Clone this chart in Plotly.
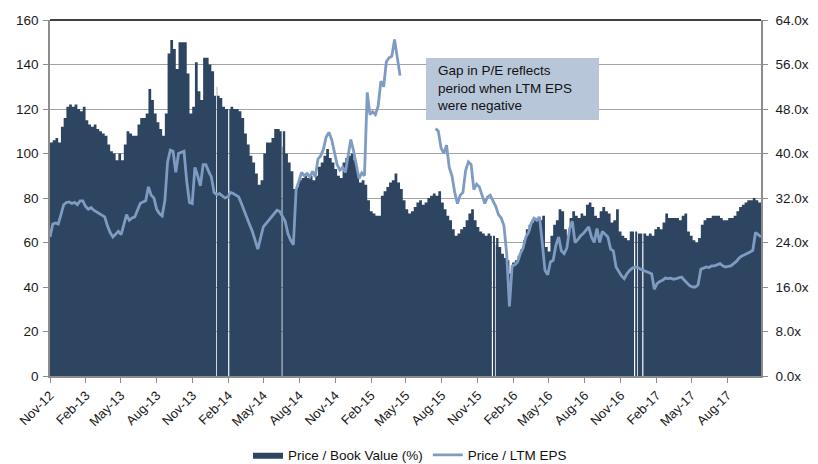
import numpy as np
import pandas as pd
import plotly.graph_objects as go
from plotly.subplots import make_subplots

# Weekly observations, first week starting 1 Nov 2012
start_date = "2012-11-01"

# Price / Book Value (%), weekly
pb_pct = [
    105, 106, 107, 105, 112, 116, 121, 122, 121, 122,
    120, 119, 121, 115, 113, 112, 113, 111, 110, 109,
    108, 104, 101, 100, 97, 100, 97, 104, 110, 109,
    108, 108, 113, 116, 116, 118, 129, 124, 118, 114,
    111, 108, 118, 145, 151, 147, 138, 150, 150, 150,
    136, 118, 121, 141, 128, 124, 143, 143, 140, 137,
    126, 130, 125, 121, 120, 120, 121, 120, 120, 119,
    116, 109, 104, 99, 96, 91, 86, 88, 100, 105,
    105, 107, 111, 111, 110, 103, 100, 96, 92, 84,
    85, 88, 89, 90, 89, 90, 88, 90, 94, 96,
    99, 102, 98, 96, 93, 90, 89, 96, 98, 99,
    100, 97, 92, 87, 88, 86, 79, 74, 73, 72,
    72, 81, 83, 85, 87, 88, 91, 87, 84, 79,
    75, 73, 74, 76, 78, 79, 77, 78, 80, 81,
    82, 81, 83, 78, 75, 72, 70, 66, 63, 64,
    66, 67, 70, 73, 75, 70, 67, 65, 64, 63,
    64, 63, 62, 59, 58, 55, 53, 52, 46, 51,
    52, 54, 57, 61, 66, 68, 69, 70, 71, 70,
    72, 58, 56, 63, 68, 70, 75, 74, 66, 63,
    71, 74, 72, 71, 73, 72, 77, 78, 76, 72,
    71, 74, 76, 74, 73, 69, 70, 75, 65, 63,
    62, 61, 65, 65, 64, 64, 64, 63, 63, 64,
    63, 66, 67, 66, 69, 73, 71, 71, 71, 71,
    70, 72, 73, 65, 63, 61, 60, 62, 68, 70,
    71, 71, 72, 72, 72, 71, 70, 70, 71, 71,
    72, 74, 76, 77, 78, 79, 79, 80, 79, 78, 77,
]

# Price / LTM EPS (x), weekly; None while LTM EPS was negative
pe_multiple = [
    25, 27.3, 27.5, 27.3, 29, 30.8, 31.2, 31.3, 31, 31.2,
    30.8, 31.5, 31.5, 30.5, 30, 30.3, 29.8, 29.5, 29.2, 28.8,
    28.6, 27, 25.8, 25, 25.6, 26, 25.4, 27.2, 29, 28,
    28.4, 28.6, 30, 31, 31.3, 31.5, 34, 32.5, 32, 30,
    29.2, 28.8, 31.5, 38.5, 40.6, 40.4, 36.6, 40, 40.2, 40.4,
    35, 31.2, 31, 37.5, 36, 34.2, 38, 38, 36.8, 35.8,
    33, 32.6, 32.8, 32.4, 32, 32.2, 33, 32.8, 32.5, 32.2,
    31, 29.6, 28.5, 27.2, 26, 24.4, 22.8, 24.8, 26.8, 27.4,
    28, 28.6, 29.2, 29.8, 29.6, 28.6, 27.8, 25.6, 24.4, 23.6,
    33.5, 35, 36.6, 36, 36.4, 35.8, 36.8, 35.8, 39, 39.6,
    40.8, 43, 43.8, 42.5, 40.5, 38, 37, 37.5, 36.6, 40,
    42.5, 40.5, 38, 35.5, 36.5, 36, 51, 47, 47.5, 47,
    48.5, 53, 52, 56.5, 57.2, 57.5, 60.5, 57.5, 54,
    None, None, None, None, None, None, None, None, None, None, None, None,
    44.5, 44, 41, 40, 41.5, 37.5, 36, 33, 31,
    32.5, 33, 37, 38.5, 38, 33.5, 34.5, 34, 32.5, 31,
    32.2, 32.5, 31.5, 30.5, 29, 28.4, 27, 22, 12.5, 19.8,
    20, 20.5, 22, 23, 25, 25.8, 27.5, 28.4, 28, 28.6,
    24, 19, 18.2, 20.5, 20.8, 23.5, 25, 22.5, 22, 23,
    26.5, 27.8, 24, 24.5, 25.2, 25.6, 26.2, 26.8, 25, 24,
    26.5, 24, 26, 25.5, 25, 22.8, 22.5, 19.6, 18.8, 18,
    17.5, 18.4, 19, 19.4, 19.6, 19.5, 19.2, 19, 18.8, 18.6,
    18.4, 15.6, 16.6, 17, 17.2, 17.6, 17.5, 17.6, 17.4, 17.5,
    17.6, 17.8, 17.2, 16.6, 16.2, 16, 16, 16.4, 19.2, 19.4,
    19.6, 19.5, 19.8, 19.8, 20, 20.2, 19.8, 19.6, 19.7, 19.8,
    20.2, 20.6, 21.2, 21.6, 21.8, 22, 22.3, 22.6, 25.8, 25.4, 25,
]

# Days with no P/B print
pb_no_data_days = [
    "2013-12-31", "2014-01-31", "2014-06-17",
    "2015-12-07", "2015-12-15",
    "2016-12-05", "2016-12-13", "2016-12-26",
]

NAVY = "#2D4560"
STEEL = "#7E9BC2"
GRID = "#A3A3A3"
AXIS = "#8C8C8C"
FONT = "Liberation Sans, Arial, sans-serif"

weeks = pd.date_range(start_date, periods=len(pb_pct), freq="7D")
pb = pd.Series(pb_pct, index=weeks, dtype=float)

# Step-shaped area with a drop to zero on the no-data days
pts = [(d, v) for d, v in pb.items()]
for day in pd.to_datetime(pb_no_data_days):
    held = pb[:day].iloc[-1]
    pts.append((day, 0.0))
    pts.append((day + pd.Timedelta(days=3), held))
area = pd.DataFrame(pts, columns=["date", "value"]).sort_values("date", kind="stable")

fig = make_subplots(specs=[[{"secondary_y": True}]])

fig.add_trace(
    go.Scatter(
        x=area["date"], y=area["value"], mode="lines",
        line=dict(width=0, shape="hv", color=NAVY),
        fill="tozeroy", fillcolor=NAVY,
        name="Price / Book Value (%)",
    ),
    secondary_y=False,
)
fig.add_trace(
    go.Scatter(
        x=weeks, y=pe_multiple, mode="lines",
        line=dict(width=2.8, color=STEEL),
        connectgaps=False,
        name="Price / LTM EPS",
    ),
    secondary_y=True,
)

fig.update_xaxes(
    type="date", automargin=False, domain=[0, 1],
    range=[weeks[0], weeks[-1]],
    tick0=start_date, dtick="M3", tickformat="%b-%y",
    tickangle=-45, ticks="outside", ticklen=5, tickcolor=AXIS,
    showline=True, linecolor=AXIS, linewidth=1.5,
    showgrid=False, zeroline=False,
    tickfont=dict(family=FONT, size=13, color="#1a1a1a"),
)
fig.update_yaxes(
    range=[0, 160], dtick=20, tick0=0, automargin=False,
    showgrid=True, gridcolor=GRID, gridwidth=1,
    ticks="outside", ticklen=5, tickcolor=AXIS,
    showline=True, linecolor=AXIS, linewidth=1.5, zeroline=False,
    tickfont=dict(family=FONT, size=13.5, color="#1a1a1a"),
    ticklabelstandoff=2,
    secondary_y=False,
)
fig.update_yaxes(
    range=[0, 64], dtick=8, tick0=0, tickformat=".1f", ticksuffix="x",
    showgrid=False, automargin=False,
    ticks="outside", ticklen=5, tickcolor=AXIS,
    showline=True, linecolor=AXIS, linewidth=1.5, zeroline=False,
    tickfont=dict(family=FONT, size=13.5, color="#1a1a1a"),
    ticklabelstandoff=5,
    secondary_y=True,
)

# Plot-area edges and the call-out box
plot_left, plot_right, plot_top, plot_bottom = 50, 761, 20, 376
pw, ph = plot_right - plot_left, plot_bottom - plot_top


def px(x):
    return (x - plot_left) / pw


def py(y):
    return (plot_bottom - y) / ph


fig.add_shape(type="line", xref="paper", yref="paper", x0=0, x1=1, y0=1, y1=1,
              line=dict(color="#000000", width=1.6))
fig.add_shape(type="rect", xref="paper", yref="paper",
              x0=px(426), x1=px(599), y0=py(120), y1=py(58),
              fillcolor="#B8C6DA", line=dict(width=0), layer="above")
fig.add_annotation(
    xref="paper", yref="paper", x=px(435), y=py(61),
    xanchor="left", yanchor="top", align="left", showarrow=False,
    text="Gap in P/E reflects<br>period when LTM EPS<br>were negative",
    font=dict(family=FONT, size=13.5, color="#111111"),
)

fig.update_layout(
    width=818, height=464,
    margin=dict(l=plot_left, r=818 - plot_right, t=plot_top, b=464 - plot_bottom,
                autoexpand=False),
    paper_bgcolor="white", plot_bgcolor="white",
    showlegend=True,
    legend=dict(
        orientation="h", x=px(410), xanchor="center", y=py(455), yanchor="middle",
        font=dict(family=FONT, size=13.5, color="#111111"),
        itemwidth=30, tracegroupgap=0, bgcolor="rgba(0,0,0,0)",
    ),
    font=dict(family=FONT),
)

fig.write_html("out.html")
